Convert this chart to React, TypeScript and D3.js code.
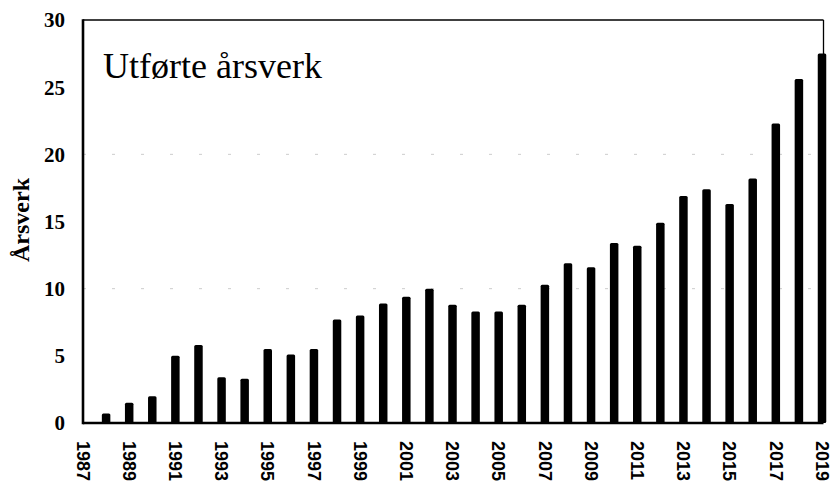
import * as d3 from "d3";

const years = d3.range(1988, 2020);
const values = [
  0.7, 1.5, 2.0, 5.0, 5.8, 3.4, 3.3, 5.5, 5.1, 5.5, 7.7, 8.0, 8.9, 9.4, 10.0, 8.8,
  8.3, 8.3, 8.8, 10.3, 11.9, 11.6, 13.4, 13.2, 14.9, 16.9, 17.4, 16.3, 18.2, 22.3,
  25.6, 27.5,
];
const yTicks = [0, 5, 10, 15, 20, 25, 30];
const xTicks = d3.range(1987, 2020, 2);
const title = "Utførte årsverk";
const yLabel = "Årsverk";

const W = 833;
const H = 483;
const left = 83;
const right = 822;
const top = 20;
const bottom = 423;

export default function App() {
  const x = d3.scaleLinear().domain([1987, 2019]).range([left, right]);
  const y = d3.scaleLinear().domain([0, 30]).range([bottom, top]);
  const barW = 8.5;

  return (
    <svg
      width={W}
      height={H}
      style={{ position: "absolute", left: 0, top: 0, background: "#fff" }}
    >
      {/* faint grid */}
      {[10, 20].map((t) => (
        <line
          key={t}
          x1={left}
          x2={right}
          y1={y(t)}
          y2={y(t)}
          stroke="#ccc"
          strokeDasharray="3 26"
        />
      ))}

      {/* bars */}
      {years.map((yr, i) => (
        <rect
          key={yr}
          x={x(yr) - barW / 2}
          y={y(values[i])}
          width={barW}
          height={y(0) - y(values[i])}
          rx={1.5}
          fill="#000"
        />
      ))}

      {/* frame */}
      <line x1={left} x2={right + 1.5} y1={top} y2={top} stroke="#000" strokeWidth={1.6} />
      <line x1={right + 1.5} x2={right + 1.5} y1={top} y2={bottom} stroke="#000" strokeWidth={1.3} />
      <line x1={left} x2={left} y1={top - 0.8} y2={bottom + 1.2} stroke="#000" strokeWidth={2.6} />
      <line x1={left} x2={right + 1.5} y1={bottom} y2={bottom} stroke="#000" strokeWidth={2.6} />

      {/* y ticks */}
      {yTicks.map((t) => (
        <text
          key={t}
          x={65}
          y={y(t)}
          dy="0.35em"
          textAnchor="end"
          fontFamily="'Liberation Serif', serif"
          fontWeight="bold"
          fontSize={21}
        >
          {t}
        </text>
      ))}

      {/* x ticks */}
      {xTicks.map((t) => (
        <text
          key={t}
          transform={`translate(${x(t)},${bottom + 18}) rotate(90)`}
          dy="0.35em"
          textAnchor="start"
          fontFamily="'Liberation Sans', sans-serif"
          fontWeight="bold"
          fontSize={18}
        >
          {t}
        </text>
      ))}

      {/* y label */}
      <text
        transform={`translate(21,${220}) rotate(-90)`}
        dy="0.35em"
        textAnchor="middle"
        fontFamily="'Liberation Serif', serif"
        fontWeight="bold"
        fontSize={24}
      >
        {yLabel}
      </text>

      {/* title */}
      <text x={103} y={78} fontFamily="'Liberation Serif', serif" fontSize={36}>
        {title}
      </text>
    </svg>
  );
}
